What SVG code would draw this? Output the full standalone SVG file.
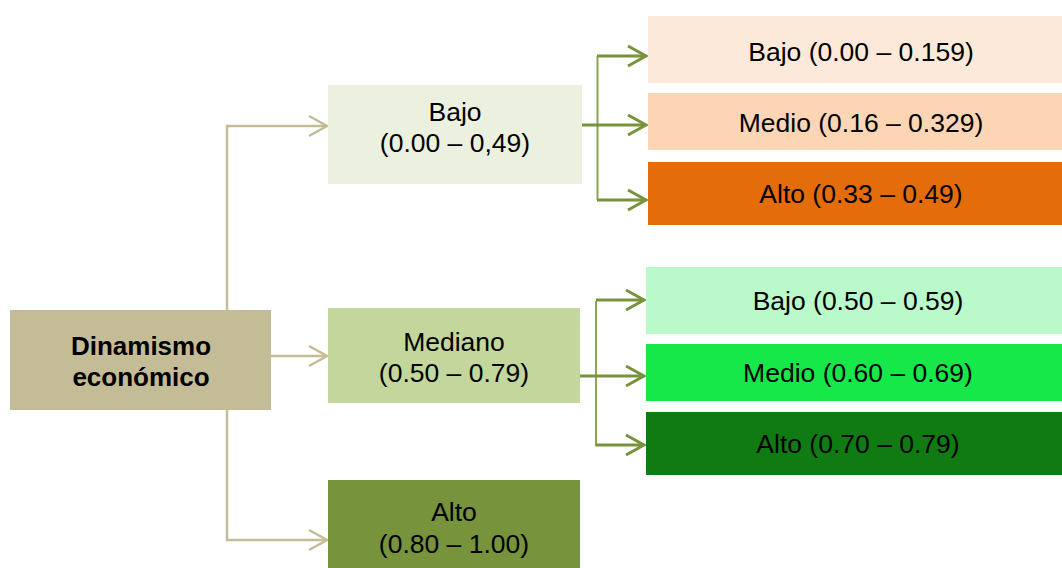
<svg xmlns="http://www.w3.org/2000/svg" width="1062" height="568" viewBox="0 0 1062 568">
<style>
text{font-family:"Liberation Sans",Arial,sans-serif;font-size:26.5px;fill:#000;text-anchor:middle}
.b{font-weight:bold;font-size:26px}
.c1{fill:none;stroke:#C4BC96;stroke-width:2.5}
.c2{fill:none;stroke:#77933C;stroke-width:3}
.v2{fill:none;stroke:#8BA652;stroke-width:2}
</style>
<defs>
<marker id="ah1" markerUnits="userSpaceOnUse" markerWidth="24" markerHeight="26" refX="20" refY="12" orient="auto" viewBox="0 0 24 24">
<path d="M2 2 L20 12 L2 22" fill="none" stroke="#C4BC96" stroke-width="2.5"/>
</marker>
<marker id="ah2" markerUnits="userSpaceOnUse" markerWidth="24" markerHeight="26" refX="20" refY="12" orient="auto" viewBox="0 0 24 24">
<path d="M2 2 L20 12 L2 22" fill="none" stroke="#77933C" stroke-width="3"/>
</marker>
</defs>
<rect width="1062" height="568" fill="#fff"/>
<g id="connectors">
<path class="c1" d="M227 311 V126 H327" marker-end="url(#ah1)"/>
<path class="c1" d="M271 356 H327" marker-end="url(#ah1)"/>
<path class="c1" d="M227 410 V540 H327" marker-end="url(#ah1)"/>
<path class="v2" d="M597.5 56 V200"/>
<path class="c2" d="M597 56 H646" marker-end="url(#ah2)"/>
<path class="c2" d="M582 125 H646" marker-end="url(#ah2)"/>
<path class="c2" d="M597 200 H646" marker-end="url(#ah2)"/>
<path class="v2" d="M596 301 V446"/>
<path class="c2" d="M596 300 H644" marker-end="url(#ah2)"/>
<path class="c2" d="M580 376 H644" marker-end="url(#ah2)"/>
<path class="c2" d="M596 445 H644" marker-end="url(#ah2)"/>
</g>
<g id="root">
<rect x="10" y="310" width="261" height="100" fill="#C4BC96"/>
<text class="b" x="141" y="355">Dinamismo</text>
<text class="b" x="141" y="386">económico</text>
</g>
<g id="bajo">
<rect x="328" y="85" width="254" height="99" fill="#EBF1DE"/>
<text x="455" y="121">Bajo</text>
<text x="455" y="152">(0.00 – 0,49)</text>
</g>
<g id="mediano">
<rect x="328" y="308" width="252" height="95" fill="#C3D69B"/>
<text x="454" y="351">Mediano</text>
<text x="454" y="382">(0.50 – 0.79)</text>
</g>
<g id="alto">
<rect x="328" y="480" width="252" height="88" fill="#77933C"/>
<text x="454" y="521">Alto</text>
<text x="454" y="553">(0.80 – 1.00)</text>
</g>
<g id="bajo-bajo">
<rect x="648" y="16" width="414" height="67" fill="#FDE9D9"/>
<text x="861" y="61">Bajo (0.00 – 0.159)</text>
</g>
<g id="bajo-medio">
<rect x="648" y="93" width="414" height="57" fill="#FCD5B5"/>
<text x="861" y="132">Medio (0.16 – 0.329)</text>
</g>
<g id="bajo-alto">
<rect x="648" y="162" width="414" height="63" fill="#E46C0A"/>
<text x="861" y="203">Alto (0.33 – 0.49)</text>
</g>
<g id="mediano-bajo">
<rect x="646" y="267" width="416" height="67" fill="#B9F9CA"/>
<text x="858" y="310">Bajo (0.50 – 0.59)</text>
</g>
<g id="mediano-medio">
<rect x="646" y="344" width="416" height="57" fill="#16E84A"/>
<text x="858" y="382">Medio (0.60 – 0.69)</text>
</g>
<g id="mediano-alto">
<rect x="646" y="412" width="416" height="63" fill="#0F7B12"/>
<text x="858" y="453">Alto (0.70 – 0.79)</text>
</g>
</svg>
